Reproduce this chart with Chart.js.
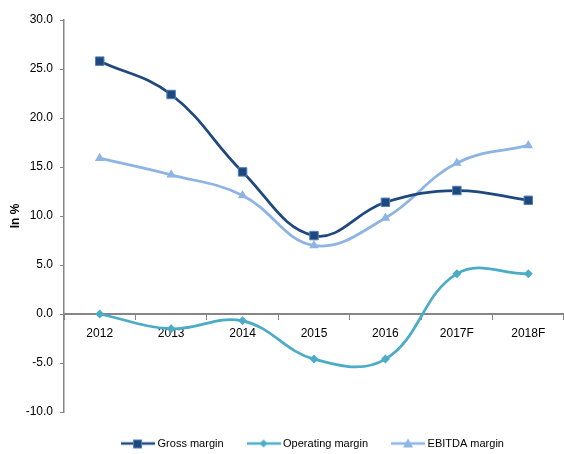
<!DOCTYPE html>
<html>
<head>
<meta charset="utf-8">
<script src="https://cdn.jsdelivr.net/npm/chart.js@4"></script>
<style>
  body { margin: 0; background: #fff; overflow: hidden; }
  #wrap { width: 564px; height: 454px; overflow: hidden; }
</style>
</head>
<body>
<div id="wrap"><canvas id="chart" width="571" height="454"></canvas></div>
<script>
const years = ["2012", "2013", "2014", "2015", "2016", "2017F", "2018F"];
const grossMargin = [25.8, 22.4, 14.5, 8.0, 11.4, 12.6, 11.6];
const operatingMargin = [0.0, -1.5, -0.7, -4.6, -4.6, 4.1, 4.1];
const ebitdaMargin = [15.9, 14.2, 12.1, 7.0, 9.8, 15.4, 17.2];
const yTicks = [-10, -5, 0, 5, 10, 15, 20, 25, 30];

const FONT = "'Liberation Sans', Arial, sans-serif";

// little line+marker swatch for the legend
function swatch(color, style, border) {
  const c = document.createElement("canvas");
  c.width = 34; c.height = 12;
  const x = c.getContext("2d");
  x.strokeStyle = color; x.lineWidth = 2.5;
  x.beginPath(); x.moveTo(0, 6); x.lineTo(34, 6); x.stroke();
  x.fillStyle = color;
  if (style === "rect") {
    x.fillRect(12, 2, 9, 9);
    x.strokeStyle = border; x.lineWidth = 1; x.strokeRect(12.5, 2.5, 8, 8);
  } else if (style === "diamond") {
    x.beginPath(); x.moveTo(17, 2); x.lineTo(21, 6); x.lineTo(17, 10); x.lineTo(13, 6); x.closePath(); x.fill();
  } else {
    x.beginPath(); x.moveTo(17, 1); x.lineTo(22, 10); x.lineTo(12, 10); x.closePath(); x.fill();
  }
  return c;
}

const navy = "#1F497D", teal = "#4BACC6", light = "#8EB4E3";
const swatches = [swatch(navy, "rect", "#4F81BD"), swatch(teal, "diamond"), swatch(light, "tri")];

new Chart(document.getElementById("chart"), {
  type: "line",
  data: {
    labels: years,
    datasets: [
      { label: "Gross margin", data: grossMargin, borderColor: navy, backgroundColor: navy,
        pointStyle: "rect", pointRadius: 6, pointBorderColor: "#4F81BD", pointBorderWidth: 1,
        borderWidth: 2.75, tension: 0.4 },
      { label: "Operating margin", data: operatingMargin, borderColor: teal, backgroundColor: teal,
        pointStyle: "rectRot", pointRadius: 4.5, pointBorderWidth: 0,
        borderWidth: 2.75, tension: 0.4 },
      { label: "EBITDA margin", data: ebitdaMargin, borderColor: light, backgroundColor: light,
        pointStyle: "triangle", pointRadius: 5.5, pointBorderWidth: 0,
        borderWidth: 2.75, tension: 0.4 }
    ]
  },
  options: {
    responsive: false,
    animation: false,
    layout: { padding: { top: 20, right: 0, bottom: -5, left: 0 } },
    plugins: {
      tooltip: { enabled: false },
      legend: {
        position: "bottom",
        fullSize: false,
        labels: {
          font: { family: FONT, size: 11 }, color: "#000",
          usePointStyle: true, pointStyleWidth: 28, boxHeight: 12, padding: 26,
          generateLabels: chart => chart.data.datasets.map((d, i) => ({
            text: d.label, pointStyle: swatches[i], datasetIndex: i,
            fillStyle: d.borderColor, strokeStyle: d.borderColor, lineWidth: 0, fontColor: "#000"
          }))
        }
      }
    },
    scales: {
      x: {
        position: { y: 0 },
        offset: true,
        grid: { drawOnChartArea: false, offset: true, tickLength: 5, color: "#868686" },
        border: { color: "#868686", width: 2 },
        ticks: { font: { family: FONT, size: 12 }, color: "#000", padding: 7, maxRotation: 0 }
      },
      y: {
        min: -10, max: 30,
        afterFit: s => { s.width = 64; },
        afterBuildTicks: s => { s.ticks = yTicks.map(v => ({ value: v })); },
        grid: { drawOnChartArea: false, tickLength: 4, color: "#868686" },
        border: { color: "#868686", width: 1.5 },
        ticks: { font: { family: FONT, size: 12 }, color: "#000", padding: 7,
                 callback: v => v.toFixed(1) },
        title: { display: true, text: "In %", font: { family: FONT, size: 12, weight: "bold" },
                 color: "#000", padding: { top: 8, bottom: 0 } }
      }
    }
  }
});
</script>
</body>
</html>
